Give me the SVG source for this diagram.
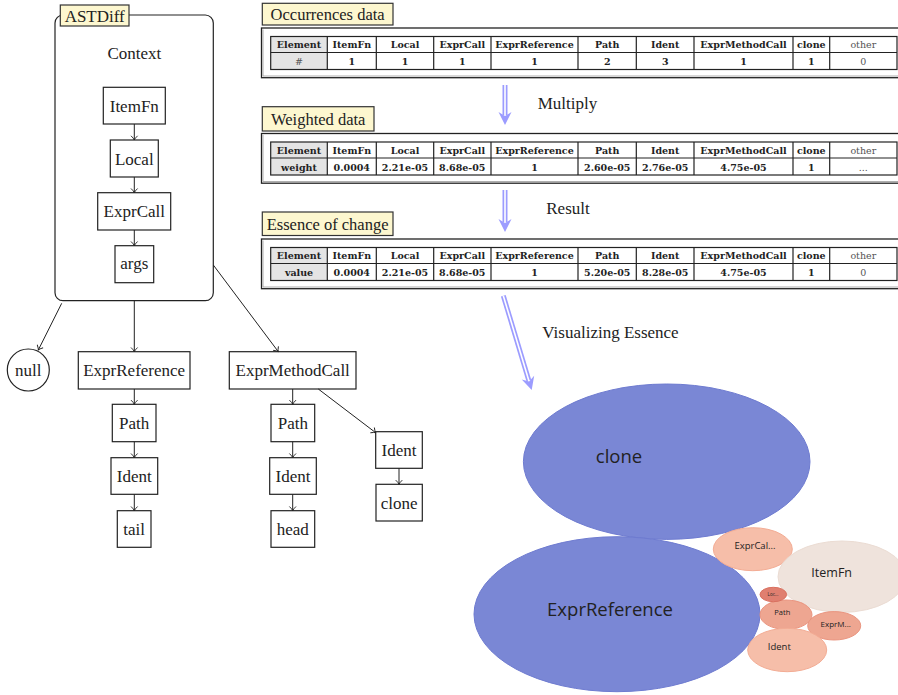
<svg xmlns="http://www.w3.org/2000/svg" width="898" height="695" viewBox="0 0 898 695">
<style>
  .lbl { font-family: 'Liberation Serif', 'DejaVu Serif', serif; font-size: 17px; fill: #222; text-anchor: middle; }
  .node { fill: #fff; stroke: #222; stroke-width: 1.2; }
  .edge { fill: none; stroke: #222; stroke-width: 1; marker-end: url(#arr); }
  .tag { fill: #fdf7cf; stroke: #333; stroke-width: 1.2; }
  .frame { fill: #fff; stroke: #222; stroke-width: 1.3; }
  .frame2 { fill: none; stroke: #999; stroke-width: 0.8; }
  .tbl { fill: none; stroke: #222; stroke-width: 1.2; }
  .elc { fill: #e4e4e4; stroke: none; }
  .th { font-family: 'DejaVu Serif', 'Liberation Serif', serif; font-size: 9.5px; font-weight: bold; fill: #222; text-anchor: middle; }
  .tr { font-family: 'DejaVu Serif', 'Liberation Serif', serif; font-size: 9.5px; font-weight: normal; fill: #555; text-anchor: middle; }
  .dblo { stroke: #9c9cff; stroke-width: 5; fill: none; }
  .dbli { stroke: #fff; stroke-width: 1.6; fill: none; }
  .dblh { fill: #9c9cff; stroke: none; }
  .bt { font-family: 'Open Sans', 'Noto Sans', sans-serif; fill: #222; text-anchor: middle; }
  .blue { fill: #7a87d5; stroke: #6e7bd0; stroke-width: 1; }
  .sal { fill: #f6bea9; stroke: #f3ac94; stroke-width: 1; }
  .sal2 { fill: #eea691; stroke: #ea9580; stroke-width: 1; }
  .red { fill: #e07f70; stroke: #d9705f; stroke-width: 1; }
  .pale { fill: #efe3dc; stroke: #ebdcd3; stroke-width: 1; }
</style>
<defs>
  <marker id="arr" markerUnits="userSpaceOnUse" markerWidth="10" markerHeight="10" viewBox="-6 -5 7 10" refX="0" refY="0" orient="auto">
    <path d="M-4.2,-3.3 Q-1.6,-0.6 0,0 Q-1.6,0.6 -4.2,3.3" fill="none" stroke="#222" stroke-width="0.9"/>
  </marker>
</defs>

<!-- Left tree -->
<g id="astdiff">
  <rect x="55" y="15" width="158.3" height="285.7" rx="8" ry="8" fill="#fff" stroke="#222" stroke-width="1.2"/>
  <rect class="tag" x="60.3" y="5" width="68.7" height="21"/>
  <text class="lbl" x="94.7" y="21.5">ASTDiff</text>
  <text class="lbl" x="134.3" y="59">Context</text>
</g>
<g id="n-itemfn"><rect class="node" x="103.3" y="87.3" width="62" height="36.7"/><text class="lbl" x="134.3" y="111.5">ItemFn</text></g>
<g id="n-local"><rect class="node" x="110.3" y="140" width="48" height="37"/><text class="lbl" x="134.3" y="164.5">Local</text></g>
<g id="n-exprcall"><rect class="node" x="97.7" y="192.7" width="73" height="37.3"/><text class="lbl" x="134.3" y="217">ExprCall</text></g>
<g id="n-args"><rect class="node" x="115" y="245.7" width="38.7" height="37"/><text class="lbl" x="134.3" y="268.5">args</text></g>
<g id="n-null"><circle class="node" cx="28.3" cy="370" r="21"/><text class="lbl" x="28.3" y="375.5">null</text></g>
<g id="n-exprref"><rect class="node" x="78.3" y="351.7" width="111.7" height="37.3"/><text class="lbl" x="134.2" y="376">ExprReference</text></g>
<g id="n-path1"><rect class="node" x="112.3" y="404.3" width="43.7" height="37.4"/><text class="lbl" x="134.2" y="428.5">Path</text></g>
<g id="n-ident1"><rect class="node" x="111" y="457.7" width="46.7" height="36.6"/><text class="lbl" x="134.3" y="481.5">Ident</text></g>
<g id="n-tail"><rect class="node" x="117.3" y="510.7" width="33.7" height="36.6"/><text class="lbl" x="134.2" y="534.5">tail</text></g>
<g id="n-emc"><rect class="node" x="229.3" y="351.7" width="126.7" height="37.3"/><text class="lbl" x="292.7" y="376">ExprMethodCall</text></g>
<g id="n-path2"><rect class="node" x="271" y="404.3" width="43.7" height="37.4"/><text class="lbl" x="292.8" y="428.5">Path</text></g>
<g id="n-ident2"><rect class="node" x="269.7" y="457.7" width="46.6" height="36.6"/><text class="lbl" x="293" y="481.5">Ident</text></g>
<g id="n-head"><rect class="node" x="271" y="510.7" width="43.7" height="36.6"/><text class="lbl" x="292.8" y="534.5">head</text></g>
<g id="n-ident3"><rect class="node" x="375.7" y="431.7" width="46.6" height="36.6"/><text class="lbl" x="399" y="455.5">Ident</text></g>
<g id="n-clone"><rect class="node" x="376" y="484.3" width="46.3" height="36.7"/><text class="lbl" x="399.2" y="508.5">clone</text></g>

<g id="edges">
  <line class="edge" x1="134.3" y1="124" x2="134.3" y2="140"/>
  <line class="edge" x1="134.3" y1="177" x2="134.3" y2="192.7"/>
  <line class="edge" x1="134.3" y1="230" x2="134.3" y2="245.7"/>
  <line class="edge" x1="61.7" y1="303.3" x2="38.3" y2="350"/>
  <line class="edge" x1="134.3" y1="300.7" x2="134.3" y2="351.7"/>
  <line class="edge" x1="213.3" y1="265" x2="278.3" y2="351.7"/>
  <line class="edge" x1="134.3" y1="389" x2="134.3" y2="404.3"/>
  <line class="edge" x1="134.3" y1="441.7" x2="134.3" y2="457.7"/>
  <line class="edge" x1="134.3" y1="494.3" x2="134.3" y2="510.7"/>
  <line class="edge" x1="292.7" y1="389" x2="292.7" y2="404.3"/>
  <line class="edge" x1="292.7" y1="441.7" x2="292.7" y2="457.7"/>
  <line class="edge" x1="292.7" y1="494.3" x2="292.7" y2="510.7"/>
  <line class="edge" x1="318.3" y1="389" x2="375.7" y2="432.7"/>
  <line class="edge" x1="399" y1="468.3" x2="399" y2="484.3"/>
</g>

<!-- Table 1 -->
<g id="occurrences" transform="translate(0,28)">
  <rect class="tag" x="262.3" y="-24.7" width="130.7" height="21.7"/>
  <text class="lbl" x="327.6" y="-8.5" style="font-size:16.5px">Occurrences data</text>
  <rect class="frame" x="261.5" y="0" width="650" height="49.7"/>
  <line class="frame2" x1="263" y1="1.5" x2="263" y2="48"/>
  <line class="frame2" x1="263" y1="48" x2="898" y2="48"/>
  <rect class="elc" x="270.7" y="8.5" width="56.6" height="33"/>
  <rect class="tbl" x="270.7" y="8.5" width="626.3" height="33"/>
  <line class="tbl" x1="270.7" y1="24.5" x2="897" y2="24.5"/>
  <path class="tbl" d="M327.3,8.5V41.5M376.3,8.5V41.5M433.7,8.5V41.5M491,8.5V41.5M578,8.5V41.5M636.3,8.5V41.5M694,8.5V41.5M793,8.5V41.5M829.7,8.5V41.5"/>
  <g class="th">
    <text x="299" y="20">Element</text><text x="351.8" y="20">ItemFn</text><text x="405" y="20">Local</text><text x="462.3" y="20">ExprCall</text><text x="534.5" y="20">ExprReference</text><text x="607.2" y="20">Path</text><text x="665.2" y="20">Ident</text><text x="743.5" y="20">ExprMethodCall</text><text x="811.3" y="20">clone</text>
    <text x="351.8" y="37">1</text><text x="405" y="37">1</text><text x="462.3" y="37">1</text><text x="534.5" y="37">1</text><text x="607.2" y="37">2</text><text x="665.2" y="37">3</text><text x="743.5" y="37">1</text><text x="811.3" y="37">1</text>
  </g>
  <g class="tr"><text x="863.3" y="20">other</text><text x="299" y="37">#</text><text x="863.3" y="37">0</text></g>
</g>

<!-- Table 2 -->
<g id="weighted" transform="translate(0,133.5)">
  <rect class="tag" x="262.3" y="-26.8" width="111.7" height="24.3"/>
  <text class="lbl" x="318.2" y="-9" style="font-size:16.5px">Weighted data</text>
  <rect class="frame" x="261.5" y="0" width="650" height="49.7"/>
  <line class="frame2" x1="263" y1="1.5" x2="263" y2="48"/>
  <line class="frame2" x1="263" y1="48" x2="898" y2="48"/>
  <rect class="elc" x="270.7" y="8.5" width="56.6" height="33"/>
  <rect class="tbl" x="270.7" y="8.5" width="626.3" height="33"/>
  <line class="tbl" x1="270.7" y1="24.5" x2="897" y2="24.5"/>
  <path class="tbl" d="M327.3,8.5V41.5M376.3,8.5V41.5M433.7,8.5V41.5M491,8.5V41.5M578,8.5V41.5M636.3,8.5V41.5M694,8.5V41.5M793,8.5V41.5M829.7,8.5V41.5"/>
  <g class="th">
    <text x="299" y="20">Element</text><text x="351.8" y="20">ItemFn</text><text x="405" y="20">Local</text><text x="462.3" y="20">ExprCall</text><text x="534.5" y="20">ExprReference</text><text x="607.2" y="20">Path</text><text x="665.2" y="20">Ident</text><text x="743.5" y="20">ExprMethodCall</text><text x="811.3" y="20">clone</text>
    <text x="299" y="37">weight</text><text x="351.8" y="37">0.0004</text><text x="405" y="37">2.21e-05</text><text x="462.3" y="37">8.68e-05</text><text x="534.5" y="37">1</text><text x="607.2" y="37">2.60e-05</text><text x="665.2" y="37">2.76e-05</text><text x="743.5" y="37">4.75e-05</text><text x="811.3" y="37">1</text>
  </g>
  <g class="tr"><text x="863.3" y="20">other</text><text x="863.3" y="37">...</text></g>
</g>

<!-- Table 3 -->
<g id="essence" transform="translate(0,239)">
  <rect class="tag" x="262.3" y="-27" width="130.7" height="23.5"/>
  <text class="lbl" x="327.6" y="-9.5" style="font-size:16.5px">Essence of change</text>
  <rect class="frame" x="261.5" y="0" width="650" height="49.7"/>
  <line class="frame2" x1="263" y1="1.5" x2="263" y2="48"/>
  <line class="frame2" x1="263" y1="48" x2="898" y2="48"/>
  <rect class="elc" x="270.7" y="8.5" width="56.6" height="33"/>
  <rect class="tbl" x="270.7" y="8.5" width="626.3" height="33"/>
  <line class="tbl" x1="270.7" y1="24.5" x2="897" y2="24.5"/>
  <path class="tbl" d="M327.3,8.5V41.5M376.3,8.5V41.5M433.7,8.5V41.5M491,8.5V41.5M578,8.5V41.5M636.3,8.5V41.5M694,8.5V41.5M793,8.5V41.5M829.7,8.5V41.5"/>
  <g class="th">
    <text x="299" y="20">Element</text><text x="351.8" y="20">ItemFn</text><text x="405" y="20">Local</text><text x="462.3" y="20">ExprCall</text><text x="534.5" y="20">ExprReference</text><text x="607.2" y="20">Path</text><text x="665.2" y="20">Ident</text><text x="743.5" y="20">ExprMethodCall</text><text x="811.3" y="20">clone</text>
    <text x="299" y="37">value</text><text x="351.8" y="37">0.0004</text><text x="405" y="37">2.21e-05</text><text x="462.3" y="37">8.68e-05</text><text x="534.5" y="37">1</text><text x="607.2" y="37">5.20e-05</text><text x="665.2" y="37">8.28e-05</text><text x="743.5" y="37">4.75e-05</text><text x="811.3" y="37">1</text>
  </g>
  <g class="tr"><text x="863.3" y="20">other</text><text x="863.3" y="37">0</text></g>
</g>

<!-- Double arrows -->
<g id="flow-arrows">
  <g transform="translate(505,85)">
    <line class="dblo" x1="0" y1="0" x2="0" y2="30"/><line class="dbli" x1="0" y1="0" x2="0" y2="31"/>
    <path class="dblh" d="M0,40 L-6.5,27 L0,31 L6.5,27 Z"/>
  </g>
  <g transform="translate(505,190)">
    <line class="dblo" x1="0" y1="0" x2="0" y2="32"/><line class="dbli" x1="0" y1="0" x2="0" y2="33"/>
    <path class="dblh" d="M0,42 L-6.5,29 L0,33 L6.5,29 Z"/>
  </g>
  <g transform="translate(503.3,295.7) rotate(-16.76)">
    <line class="dblo" x1="0" y1="0" x2="0" y2="88.5"/><line class="dbli" x1="0" y1="0" x2="0" y2="89.5"/>
    <path class="dblh" d="M0,98.5 L-6.5,85.5 L0,89.5 L6.5,85.5 Z"/>
  </g>
  <text class="lbl" x="567.5" y="108.5">Multiply</text>
  <text class="lbl" x="568" y="214">Result</text>
  <text class="lbl" x="610.5" y="337.5">Visualizing Essence</text>
</g>

<!-- Bubble chart -->
<g id="bubbles">
  <ellipse class="blue" cx="666.7" cy="461.7" rx="143.3" ry="77.7"/>
  <text class="bt" x="619" y="463" font-size="18.5">clone</text>
  <ellipse class="blue" cx="617" cy="614.2" rx="143" ry="77.5"/>
  <text class="bt" x="610" y="616" font-size="18.5">ExprReference</text>
  <ellipse class="sal" cx="752.8" cy="549.2" rx="39.5" ry="21.5"/>
  <text class="bt" x="755" y="549" font-size="9.5">ExprCal...</text>
  <ellipse class="pale" cx="842" cy="576.7" rx="64" ry="35.7"/>
  <text class="bt" x="831.7" y="577" font-size="12.5">ItemFn</text>
  <ellipse class="sal2" cx="786" cy="614.7" rx="26" ry="14.7"/>
  <text class="bt" x="782.3" y="615" font-size="7.5">Path</text>
  <ellipse class="red" cx="773.3" cy="594.5" rx="13.3" ry="7.2"/>
  <text class="bt" x="773" y="596" font-size="4.5">Loc...</text>
  <ellipse class="sal2" cx="834.2" cy="625.8" rx="26.5" ry="14.2"/>
  <text class="bt" x="835.7" y="627" font-size="8">ExprM...</text>
  <ellipse class="sal" cx="787.2" cy="650" rx="39.5" ry="21.7"/>
  <text class="bt" x="779.3" y="650" font-size="9.5">Ident</text>
</g>
</svg>
